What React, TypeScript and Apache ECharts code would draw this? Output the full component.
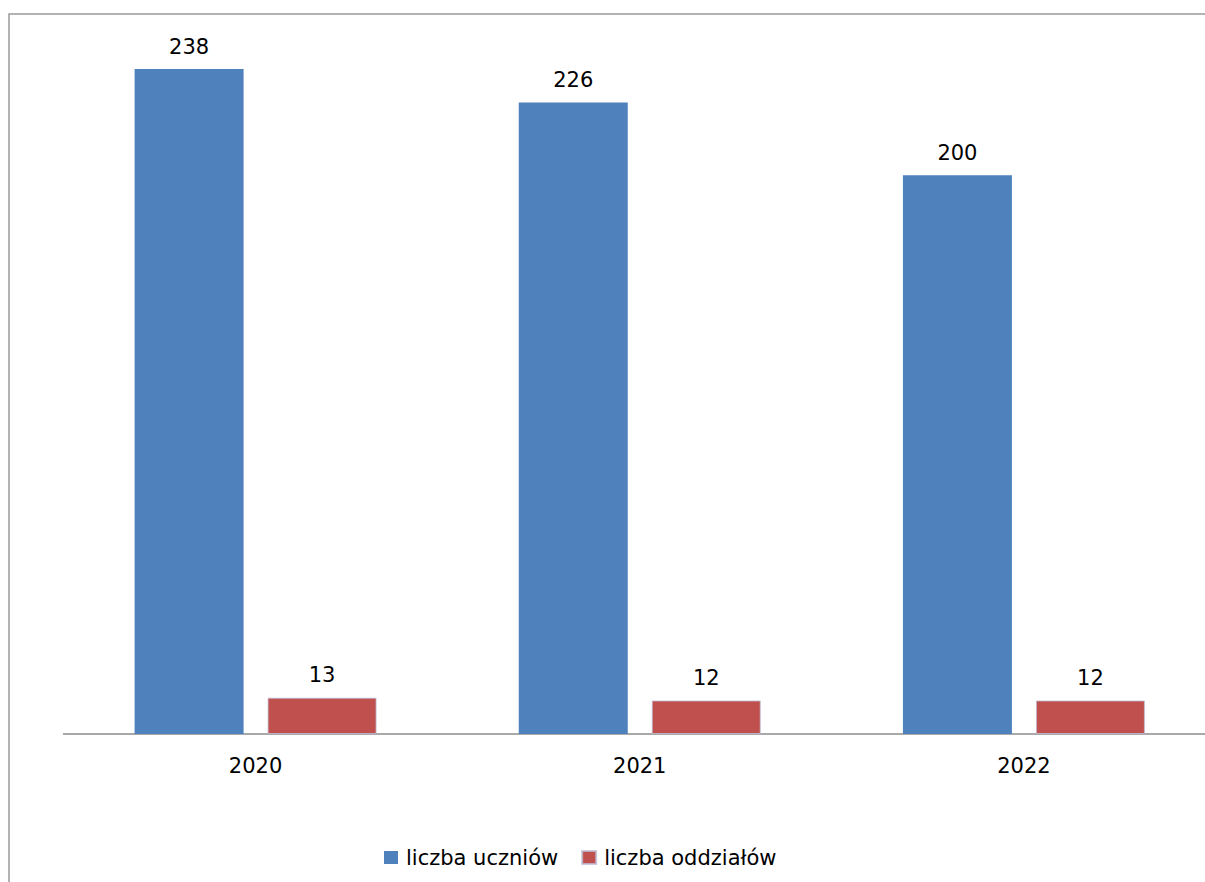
import React, { useEffect, useRef } from "react";
import * as echarts from "echarts";

const categories = ["2020", "2021", "2022"];
const students = [238, 226, 200];
const classes = [13, 12, 12];
const seriesNames = ["liczba uczniów", "liczba oddziałów"];

const FONT = "DejaVu Sans";

export default function App() {
  const ref = useRef<HTMLDivElement>(null);
  useEffect(() => {
    if (!ref.current) return;
    const chart = echarts.init(ref.current, null, { renderer: "svg" });
    const label = {
      show: true,
      position: "top" as const,
      distance: 12,
      color: "#000",
      fontFamily: FONT,
      fontSize: 21,
    };
    chart.setOption({
      animation: false,
      backgroundColor: "#fff",
      graphic: [
        {
          type: "rect",
          shape: { x: 9, y: 14, width: 1400, height: 1000 },
          style: { fill: "none", stroke: "#9a9a9a", lineWidth: 1.5 },
          silent: true,
        },
      ],
      grid: { left: 63.5, right: 0, top: 35.5, bottom: 148 },
      legend: {
        left: 379,
        top: 842,
        itemWidth: 14,
        itemHeight: 13,
        itemGap: 23,
        icon: "rect",
        textStyle: {
          fontFamily: FONT,
          fontSize: 21,
          color: "#000",
          padding: [0, 0, 0, 3],
        },
        data: seriesNames,
      },
      xAxis: {
        type: "category",
        data: categories,
        axisLine: { lineStyle: { color: "#8c8c8c", width: 1.5 } },
        axisTick: { show: false },
        axisLabel: {
          margin: 21,
          color: "#000",
          fontFamily: FONT,
          fontSize: 21,
        },
      },
      yAxis: {
        type: "value",
        min: 0,
        max: 250,
        show: false,
        splitLine: { show: false },
      },
      series: [
        {
          name: seriesNames[0],
          type: "bar",
          data: students,
          barWidth: 109,
          barGap: "22%",
          itemStyle: { color: "#4F81BD" },
          label,
        },
        {
          name: seriesNames[1],
          type: "bar",
          data: classes,
          barWidth: 109,
          barGap: "22%",
          itemStyle: {
            color: "#C0504D",
            borderColor: "rgba(190,190,215,0.8)",
            borderWidth: 1,
          },
          label,
        },
      ],
    });
    return () => chart.dispose();
  }, []);
  return (
    <div
      style={{
        position: "absolute",
        left: 0,
        top: 0,
        width: 1205,
        height: 882,
        overflow: "hidden",
      }}
    >
      <div ref={ref} style={{ width: 1215.5, height: 882 }} />
    </div>
  );
}
